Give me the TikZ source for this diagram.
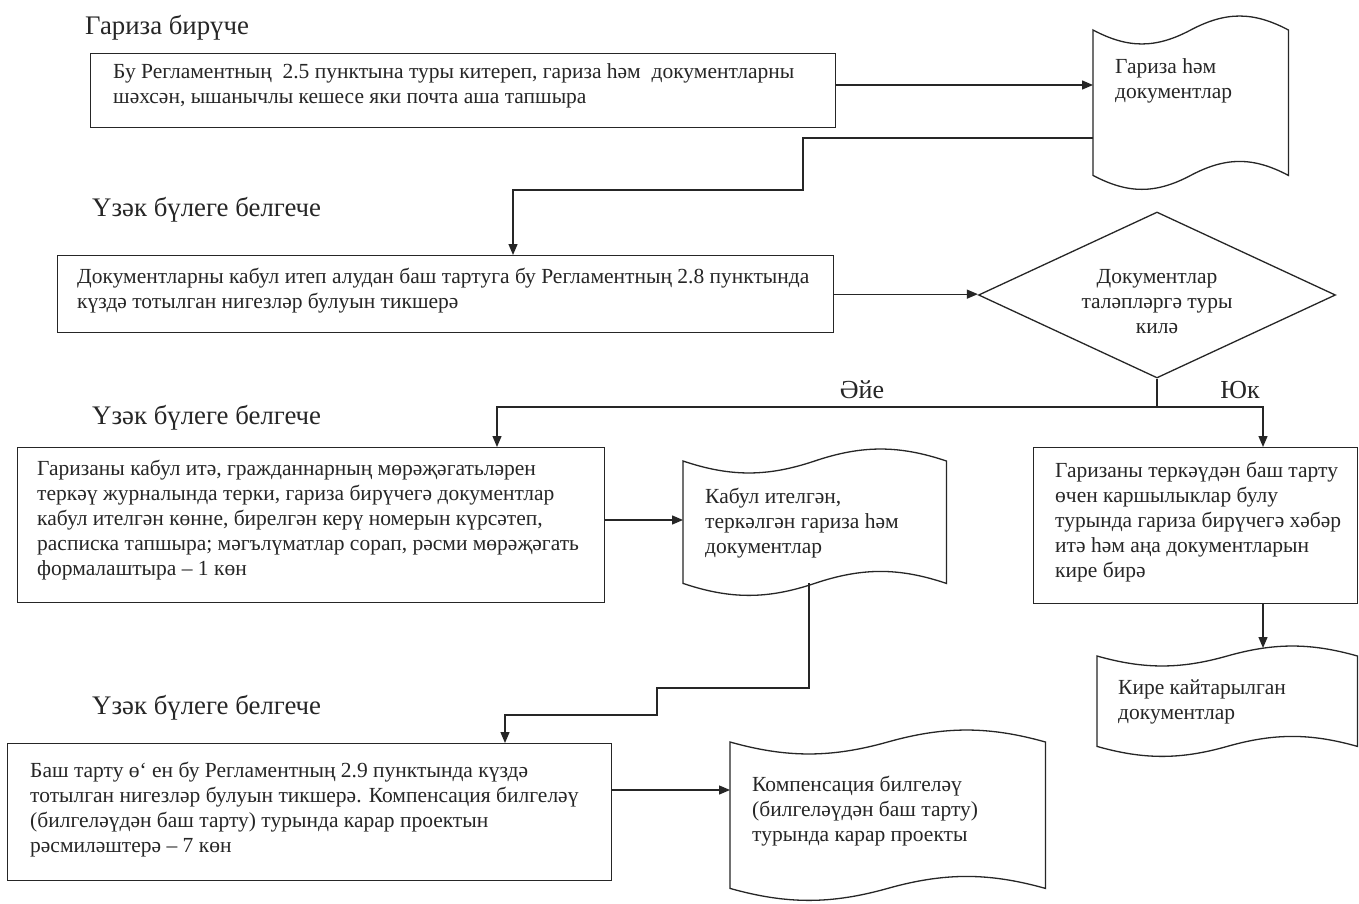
\documentclass[tikz,border=0pt]{standalone}
\usepackage{fontspec}
\setmainfont{Liberation Serif}
\usetikzlibrary{shapes.geometric,arrows.meta,calc}
\tikzset{
 line/.style={line width=1.3pt, draw=black!85},
 arr/.style={line, -{Triangle[length=11pt,width=9pt]}},
 box/.style={line, rectangle, inner sep=0pt, anchor=north west},
 frame/.style={rectangle, inner sep=0pt, anchor=north west},
 txt/.style={font=\fontsize{21.5}{25}\selectfont, align=left, anchor=north west, inner sep=0pt, text=black!85},
 ctxt/.style={font=\fontsize{21.5}{25}\selectfont, align=center, inner sep=0pt, text=black!85},
 ttl/.style={font=\fontsize{26.8}{30}\selectfont, anchor=west, inner sep=0pt, text=black!85},
 lbl/.style={font=\fontsize{26}{30}\selectfont, inner sep=0pt, text=black!85},
 decision/.style={line, diamond, aspect=2.15, inner sep=0pt, minimum width=357pt, minimum height=166pt},
}
\newcommand\tapeoutline[2]{%
 \draw[line] let \p1=(#1.north west), \p2=(#1.south east), \n1={\x2-\x1}, \n2={#2*1.33} in
 (\x1,\y1) .. controls ({\x1+0.18*\n1},{\y1-\n2}) and ({\x1+0.32*\n1},{\y1-\n2}) .. ({\x1+0.5*\n1},\y1)
 .. controls ({\x1+0.68*\n1},{\y1+\n2}) and ({\x1+0.82*\n1},{\y1+\n2}) .. (\x2,\y1)
 -- (\x2,\y2)
 .. controls ({\x1+0.82*\n1},{\y2+\n2}) and ({\x1+0.68*\n1},{\y2+\n2}) .. ({\x1+0.5*\n1},\y2)
 .. controls ({\x1+0.32*\n1},{\y2-\n2}) and ({\x1+0.18*\n1},{\y2-\n2}) .. (\x1,\y2) -- cycle;}
\begin{document}
\begin{tikzpicture}[x=1pt,y=-1pt]
\useasboundingbox[fill=white] (0,0) rectangle (1359,904);

% titles
\node[ttl] (t1) at (85,28) {Гариза бирүче};
\node[ttl] (t2) at (92,210) {Үзәк бүлеге белгече};
\node[ttl] (t3) at (92,418) {Үзәк бүлеге белгече};
\node[ttl] (t4) at (92,708) {Үзәк бүлеге белгече};

% boxes
\node[box, minimum width=745pt, minimum height=74pt] (b1) at (90,53) {};
\node[txt] (b1t) at (113,63) {Бу Регламентның\ \ 2.5 пунктына туры китереп, гариза һәм\ \ документларны\\шәхсән, ышанычлы кешесе яки почта аша тапшыра};

\node[box, minimum width=776pt, minimum height=77pt] (b2) at (57,255) {};
\node[txt] (b2t) at (77,268) {Документларны кабул итеп алудан баш тартуга бу Регламентның 2.8 пунктында\\күздә тотылган нигезләр булуын тикшерә};

\node[box, minimum width=587pt, minimum height=155pt] (b3) at (17,447) {};
\node[txt] (b3t) at (37,460) {Гаризаны кабул итә, гражданнарның мөрәҗәгатьләрен\\теркәү журналында терки, гариза бирүчегә документлар\\кабул ителгән көнне, бирелгән керү номерын күрсәтеп,\\расписка тапшыра; мәгълүматлар сорап, рәсми мөрәҗәгать\\формалаштыра – 1 көн};

\node[box, minimum width=324pt, minimum height=156pt] (b4) at (1033,447) {};
\node[txt] (b4t) at (1055,462) {Гаризаны теркәүдән баш тарту\\өчен каршылыклар булу\\турында гариза бирүчегә хәбәр\\итә һәм аңа документларын\\кире бирә};

\node[box, minimum width=604pt, minimum height=137pt] (b5) at (7,743) {};
\node[txt] (b5t) at (30,762) {Баш тарту ө‘ ен бу Регламентның 2.9 пунктында күздә\\тотылган нигезләр булуын тикшерә. Компенсация билгеләү\\(билгеләүдән баш тарту) турында карар проектын\\рәсмиләштерә – 7 көн};

% decision
\node[decision] (dia) at (1157,295) {};
\node[ctxt] (diat) at (1157,302) {Документлар\\таләпләргә туры\\килә};

% documents (punched tape)
\node[frame, minimum width=195pt, minimum height=145pt] (d1) at (1093,30) {};
\tapeoutline{d1}{14}
\node[txt] (d1t) at (1115,58) {Гариза һәм\\документлар};

\node[frame, minimum width=263pt, minimum height=122pt] (d2) at (683,461) {};
\tapeoutline{d2}{12}
\node[txt] (d2t) at (705,488) {Кабул ителгән,\\теркәлгән гариза һәм\\документлар};

\node[frame, minimum width=260pt, minimum height=90pt] (d3) at (1097,656) {};
\tapeoutline{d3}{10}
\node[txt] (d3t) at (1118,680) {Кире кайтарылган\\документлар};

\node[frame, minimum width=315pt, minimum height=146pt] (d4) at (730,742) {};
\tapeoutline{d4}{12}
\node[txt] (d4t) at (752,776) {Компенсация билгеләү\\(билгеләүдән баш тарту)\\турында карар проекты};

% connectors
\coordinate (w1) at (803,190);
\coordinate (j) at (1157,407);
\coordinate (w2) at (657,688);
\coordinate (w3) at (657,715);
\coordinate (d3in) at (1263,648);
\coordinate (a1) at ($(b1.north east)+(0,32)$);
\coordinate (a3) at ($(b3.north east)+(0,73)$);
\coordinate (a5) at ($(b5.north east)+(0,47)$);
\coordinate (s1) at ($(d1.north west)+(0,108)$);
\coordinate (s2) at ($(d2.south west)+(126,0)$);
\coordinate (s4) at ($(b4.south west)+(230,0)$);
\coordinate (e2) at ($(b2.north west)+(456,0)$);
\coordinate (e3) at ($(b3.north west)+(480,0)$);
\coordinate (e4) at ($(b4.north west)+(230,0)$);
\coordinate (e5) at ($(b5.north west)+(498,0)$);

\draw[arr] (a1) -- (a1 -| d1.west);
\draw[arr] (s1) -| (w1) -| (e2);
\draw[arr] (b2.east) -- (b2.east -| dia.west);
\draw[line] (dia.south) -- (j);
\draw[arr] (j) -| (e3);
\draw[arr] (j) -| (e4);
\draw[arr] (a3) -- (a3 -| d2.west);
\draw[arr] (s2) |- (w2) -- (w3) -| (e5);
\draw[arr] (s4) -- (d3in);
\draw[arr] (a5) -- (a5 -| d4.west);

\node[lbl] (yes) at (862,390) {Әйе};
\node[lbl] (no) at (1240,390) {Юк};
\end{tikzpicture}
\end{document}
